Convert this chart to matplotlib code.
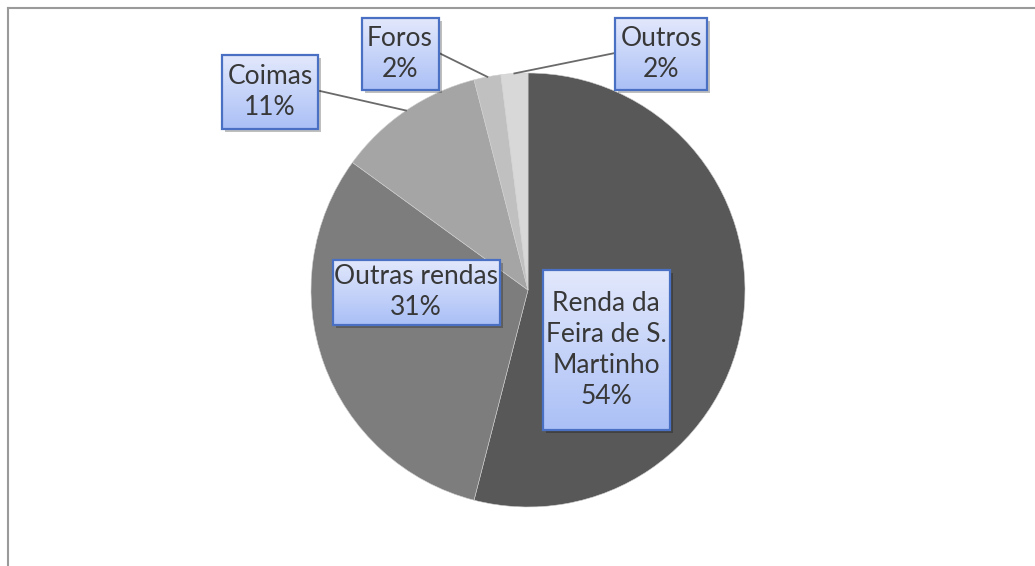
import numpy as np
import matplotlib.pyplot as plt
from matplotlib.patches import Rectangle
from matplotlib.colors import LinearSegmentedColormap

# shares of the income, clockwise from 12 o'clock
categories = ['Renda da\nFeira de S.\nMartinho', 'Outras rendas', 'Coimas', 'Foros', 'Outros']
shares = [54, 31, 11, 2, 2]
colors = ['#585858', '#7d7d7d', '#a5a5a5', '#c0c0c0', '#d8d8d8']

# label boxes (pixel coords, y down): center x, center y, width, height
boxes = [(606, 350, 127, 160), (416, 292, 167, 65), (270, 92, 96, 74),
         (400, 54, 77, 72), (661, 54, 92, 72)]
# leader lines start (pixel coords), None -> no leader
leaders = [None, None, (320, 91), (439, 53), (615, 53)]

W, H = 1035, 566
fig = plt.figure(figsize=(W / 100, H / 100), dpi=100)
ax = fig.add_axes([0, 0, 1, 1])

cx, cy, r = 528, H - 290, 217
wedges, _ = ax.pie(shares, colors=colors, startangle=90, counterclock=False,
                   center=(cx, cy), radius=r, wedgeprops=dict(linewidth=0.4, edgecolor='#d0d0d0'))

cmap = LinearSegmentedColormap.from_list('box', ['#e2e8fc', '#abc0f6'])
grad = np.linspace(0, 1, 64).reshape(-1, 1)

cum = np.cumsum([0] + shares)
for i, (lab, val) in enumerate(zip(categories, shares)):
    bx, by, bw, bh = boxes[i]
    by = H - by
    x0, y0 = bx - bw / 2, by - bh / 2
    if leaders[i] is not None:
        mid = 90 - (cum[i] + val / 2) / 100 * 360
        ex = cx + r * np.cos(np.radians(mid))
        ey = cy + r * np.sin(np.radians(mid))
        lx, ly = leaders[i]
        ax.plot([lx, ex], [H - ly, ey], color='#6a6a6a', lw=1.3, zorder=3)
    # shadow
    ax.add_patch(Rectangle((x0 + 3, y0 - 3), bw, bh, facecolor='#000000', alpha=0.25,
                           edgecolor='none', zorder=4))
    ax.imshow(grad, extent=[x0, x0 + bw, y0, y0 + bh], cmap=cmap,
              aspect='auto', zorder=5, origin='upper')
    ax.add_patch(Rectangle((x0, y0), bw, bh, facecolor='none', edgecolor='#4a70c4',
                           lw=1.6, zorder=6))
    ax.text(bx, by, f'{lab}\n{val}%', ha='center', va='center', fontsize=19,
            color='#383838', linespacing=1.3, zorder=7,
            family=['Lato', 'DejaVu Sans'])

# chart area border (top and left visible)
ax.plot([8, W], [H - 8, H - 8], color='#9a9a9a', lw=1.5)
ax.plot([8, 8], [0, H - 8], color='#9a9a9a', lw=1.5)

ax.set_xlim(0, W)
ax.set_ylim(0, H)
ax.set_aspect('auto')
ax.axis('off')

fig.savefig('out.png', dpi=100, facecolor='white')
